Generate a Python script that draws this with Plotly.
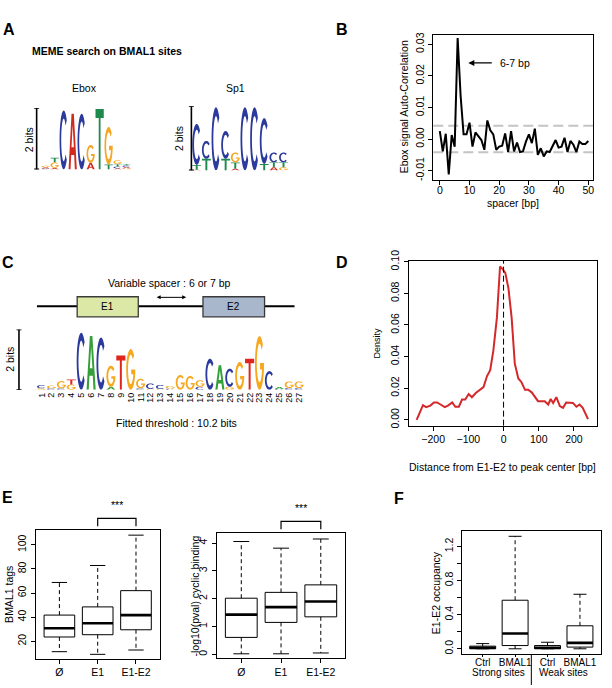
import math
import plotly.graph_objects as go

W, H = 612, 688
OFF = 0  # body margin removed in the page (post_script), so figure pixels = window pixels
FONT = "Liberation Sans, Arial, sans-serif"

# ---------------- data ----------------
# Panel A: Ebox logo (stacked bottom -> top per position)
EBOX_POS = [1, 1, 1, 2, 2, 2, 3, 4, 5, 6, 6, 7, 8, 8, 9, 9, 9, 9, 10, 10, 10, 10]
EBOX_LET = ["C", "A", "G", "A", "G", "T", "C", "A", "C", "A", "G", "T", "T", "G", "A", "C", "T", "G", "G", "A", "C", "T"]
EBOX_BITS = [0.03, 0.04, 0.05, 0.05, 0.18, 0.15, 1.92, 1.81, 1.81, 0.21, 0.59, 1.97, 0.16, 1.22,
             0.04, 0.05, 0.08, 0.13, 0.04, 0.04, 0.05, 0.04]

# Panel A: Sp1 logo
SP1_POS = [1, 1, 1, 2, 2, 3, 4, 4, 5, 5, 5, 6, 7, 8, 8, 9, 9, 9, 10, 10, 10]
SP1_LET = ["A", "T", "C", "T", "C", "C", "T", "C", "A", "T", "G", "C", "C", "T", "C", "A", "T", "C", "G", "T", "C"]
SP1_BITS = [0.02, 0.15, 1.28, 0.36, 0.56, 1.97, 0.36, 0.87, 0.05, 0.20, 0.31, 1.97, 1.97, 0.20, 1.43,
            0.10, 0.15, 0.31, 0.10, 0.15, 0.31]

# Panel C: E1-E2 logo
CL_POS = [1, 1, 2, 2, 3, 3, 4, 4, 5, 6, 7, 8, 8, 9, 10, 11, 11, 12, 12, 13, 13, 14, 14, 15, 16,
          17, 17, 18, 19, 20, 20, 21, 22, 23, 24, 25, 25, 26, 26, 27, 27]
CL_LET = ["G", "C", "C", "G", "C", "G", "G", "T", "C", "A", "C", "A", "G", "T", "G", "C", "G", "G", "C",
          "G", "C", "C", "G", "G", "G", "C", "G", "C", "A", "G", "C", "G", "T", "G", "C", "C", "A",
          "C", "G", "C", "G"]
CL_BITS = [0.05, 0.11, 0.05, 0.09, 0.05, 0.24, 0.18, 0.16, 1.89, 1.78, 1.73, 0.10, 0.70, 1.14, 1.35,
           0.05, 0.32, 0.03, 0.18, 0.03, 0.13, 0.04, 0.09, 0.49, 0.46, 0.10, 0.22, 1.03, 0.81,
           0.10, 0.60, 0.92, 1.03, 1.78, 0.62, 0.03, 0.06, 0.06, 0.22, 0.06, 0.22]
CL_TICKS = [str(i) for i in range(1, 28)]

# Panel B: Ebox auto-correlation
B_SPACER = [0, 1, 2, 3, 4, 5, 6, 7, 8, 9, 10, 11, 12, 13, 14, 15, 16, 17, 18, 19, 20, 21, 22, 23, 24,
            25, 26, 27, 28, 29, 30, 31, 32, 33, 34, 35, 36, 37, 38, 39, 40, 41, 42, 43, 44, 45, 46,
            47, 48, 49, 50]
B_ACF = [0.0025, -0.0039, 0.0017, -0.0112, 0.0013, -0.0024, 0.0320, 0.0137, 0.0015, 0.0015, 0.0052,
         -0.0024, 0.0021, 0.0009, -0.0003, -0.0034, 0.0059, 0.0028, 0.0015, -0.0034, -0.0024, -0.0021,
         0.0018, -0.0041, 0.0025, -0.0039, -0.0011, -0.0041, -0.0039, -0.0008, 0.0015, -0.0013,
         0.0033, -0.0050, -0.0029, -0.0055, -0.0039, -0.0041, -0.0024, -0.0003, -0.0027, -0.0024,
         0.0004, -0.0041, -0.0006, -0.0018, -0.0041, -0.0008, -0.0016, -0.0016, -0.0006]
B_THRESH = [0.0042, -0.0042]
B_XTICKS = [0, 10, 20, 30, 40, 50]
B_YTICKS = [-0.01, 0.0, 0.01, 0.02, 0.03]
B_YTEXT = ["-0.01", "0.00", "0.01", "0.02", "0.03"]

# Panel D: density of distance
D_X = [-247, -229, -220, -208, -198, -189, -179, -167, -158, -146, -137, -127, -118, -109, -99, -90,
       -79, -66, -57, -47, -38, -29, -19, -10, -3, 5, 14, 23, 32, 42, 51, 61, 70, 80, 89, 98, 108,
       117, 127, 134, 141, 150, 160, 169, 178, 188, 197, 207, 216, 225, 240]
D_Y = [0.0, 0.0093, 0.008, 0.009, 0.011, 0.011, 0.0097, 0.008, 0.009, 0.011, 0.0083, 0.0083, 0.0128,
       0.0128, 0.0163, 0.0143, 0.017, 0.0194, 0.0207, 0.0277, 0.0314, 0.0438, 0.0645, 0.097, 0.0955,
       0.093, 0.083, 0.0645, 0.0355, 0.0262, 0.0238, 0.019, 0.019, 0.0174, 0.0149, 0.0118, 0.0118,
       0.0118, 0.0097, 0.0132, 0.0107, 0.0143, 0.0087, 0.0076, 0.011, 0.0107, 0.0107, 0.0083,
       0.0097, 0.0076, 0.0004]
D_XTICKS = [-200, -100, 0, 100, 200]
D_XTEXT = ["\u2212200", "\u2212100", "0", "100", "200"]
D_YTICKS = [0.0, 0.02, 0.04, 0.06, 0.08, 0.10]
D_YTEXT = ["0.00", "0.02", "0.04", "0.06", "0.08", "0.10"]

# Panel E: boxplots
E_CATS = ["\u00d8", "E1", "E1-E2"]
E1_LOW = [11.3, 9.1, 12.7]
E1_Q1 = [23.5, 25.4, 29.5]
E1_MED = [30.8, 34.9, 41.7]
E1_Q3 = [41.7, 48.5, 62.0]
E1_HIGH = [68.8, 82.9, 108.1]
E1_YTICKS = [20, 40, 60, 80, 100]

E2_LOW = [0.02, 0.02, 0.05]
E2_Q1 = [0.61, 1.15, 1.35]
E2_MED = [1.43, 1.70, 1.90]
E2_Q3 = [2.02, 2.23, 2.50]
E2_HIGH = [4.06, 3.82, 4.15]
E2_YTICKS = [0, 1, 2, 3, 4]

# Panel F: boxplots
F_CATS = ["Ctrl", "BMAL1", "Ctrl", "BMAL1"]
F_GROUPS = ["Strong sites", "Weak sites"]
F_LOW = [0.0, 0.0, 0.0, 0.0]
F_Q1 = [0.0, 0.038, 0.0, 0.02]
F_MED = [0.012, 0.18, 0.012, 0.069]
F_Q3 = [0.031, 0.57, 0.038, 0.27]
F_HIGH = [0.061, 1.32, 0.077, 0.64]
F_YTICKS = [0.0, 0.2, 0.4, 0.6, 0.8, 1.0, 1.2]
F_YTEXT = ["0.0", "", "0.4", "", "0.8", "", "1.2"]


# ---------------- helpers ----------------
def fx(p):
    return (p - OFF) / W


def fy(p):
    return 1 - (p - OFF) / H


def ell(rx, ry, a0, a1, n=30):
    pts = []
    for k in range(n + 1):
        a = math.radians(a0 + (a1 - a0) * k / n)
        pts.append((0.5 + rx * math.cos(a), 0.5 + ry * math.sin(a)))
    return pts


GLYPHS = {
    "C": [ell(0.5, 0.5, 42, 318) + ell(0.30, 0.36, 318, 42)],
    "G": [ell(0.5, 0.5, 42, 360) + [(0.55, 0.5), (0.55, 0.38)] + ell(0.30, 0.36, 340.5, 42)],
    "A": [[(0, 0), (0.36, 1), (0.64, 1), (1, 0), (0.76, 0), (0.68, 0.26), (0.32, 0.26), (0.24, 0)],
          [(0.36, 0.40), (0.5, 0.80), (0.64, 0.40)]],
    "T": [[(0, 1), (1, 1), (1, 0.85), (0.61, 0.85), (0.61, 0), (0.39, 0), (0.39, 0.85), (0, 0.85)]],
}

MEME_COL = {"A": "#d42a1e", "C": "#2b3a9c", "G": "#f5a623", "T": "#1e8a4c"}
CL_COL = {"A": "#35a03a", "C": "#2b3a9c", "G": "#f6a81e", "T": "#e0261c"}


def logo_shapes(pos, let, bits, xr, yr, colors, w=0.92):
    shapes = []
    base = {}
    for p, l, b in zip(pos, let, bits):
        y0 = base.get(p, 0.0)
        parts = []
        for poly in GLYPHS[l]:
            pts = [(p - w / 2 + u * w, y0 + v * b) for u, v in poly]
            parts.append("M" + "L".join(f"{x:.4f},{y:.5f}" for x, y in pts) + "Z")
        shapes.append(dict(type="path", path="".join(parts), xref=xr, yref=yr,
                           fillcolor=colors[l], line=dict(width=0), layer="above"))
        base[p] = y0 + b
    return shapes


def box_traces(low, q1, med, q3, high, xa, ya, bw=0.8):
    bx, by, mx, my, wx, wy, sx, sy = [], [], [], [], [], [], [], []
    for i in range(len(med)):
        c = i + 1
        l, r = c - bw / 2, c + bw / 2
        bx += [l, r, r, l, l, None]
        by += [q1[i], q1[i], q3[i], q3[i], q1[i], None]
        mx += [l, r, None]
        my += [med[i], med[i], None]
        wx += [c, c, None, c, c, None]
        wy += [q3[i], high[i], None, q1[i], low[i], None]
        sx += [c - bw / 4, c + bw / 4, None, c - bw / 4, c + bw / 4, None]
        sy += [high[i], high[i], None, low[i], low[i], None]
    common = dict(xaxis=xa, yaxis=ya, mode="lines", hoverinfo="skip", showlegend=False)
    return [
        go.Scatter(x=wx, y=wy, line=dict(color="black", width=1, dash="4px,3px"), **common),
        go.Scatter(x=sx, y=sy, line=dict(color="black", width=1), **common),
        go.Scatter(x=bx, y=by, line=dict(color="black", width=1), **common),
        go.Scatter(x=mx, y=my, line=dict(color="black", width=2.6), **common),
    ]


def plot_axis(dom_px, rng, anchor, **kw):
    d = dict(domain=dom_px, range=rng, anchor=anchor, showline=True, mirror=True,
             linecolor="black", linewidth=1, ticks="outside", ticklen=4, tickwidth=1,
             tickcolor="black", showgrid=False, zeroline=False,
             tickfont=dict(size=10.5, color="black", family=FONT))
    d.update(kw)
    return d


def ann(text, x, y, size=10.5, bold=False, angle=0, xanchor="center", yanchor="middle"):
    if bold:
        text = "<b>" + text + "</b>"
    return dict(text=text, x=fx(x), y=fy(y), xref="paper", yref="paper", showarrow=False,
                font=dict(size=size, color="black", family=FONT), textangle=angle,
                xanchor=xanchor, yanchor=yanchor)


fig = go.Figure()
shapes = []
annotations = []

# ---------------- Panel A ----------------
shapes += logo_shapes(EBOX_POS, EBOX_LET, EBOX_BITS, "x", "y", MEME_COL)
shapes += logo_shapes(SP1_POS, SP1_LET, SP1_BITS, "x2", "y2", MEME_COL)
fig.add_trace(go.Scatter(x=[], y=[], xaxis="x", yaxis="y", showlegend=False))
fig.add_trace(go.Scatter(x=[], y=[], xaxis="x2", yaxis="y2", showlegend=False))


def bracket(xpx, yr):
    return [
        dict(type="line", xref="paper", yref=yr, x0=fx(xpx), x1=fx(xpx), y0=0, y1=2,
             line=dict(color="black", width=1.6)),
        dict(type="line", xref="paper", yref=yr, x0=fx(xpx - 2.5), x1=fx(xpx + 2.5), y0=0, y1=0,
             line=dict(color="black", width=1.6)),
        dict(type="line", xref="paper", yref=yr, x0=fx(xpx - 2.5), x1=fx(xpx + 2.5), y0=2, y1=2,
             line=dict(color="black", width=1.6)),
    ]


shapes += bracket(36.7, "y")
shapes += bracket(191.7, "y2")
shapes += bracket(19.0, "y4")

annotations += [
    ann("A", 9, 19, size=16, bold=True),
    ann("MEME search on BMAL1 sites", 30, 41, size=10.5, bold=True, xanchor="left"),
    ann("Ebox", 85, 79),
    ann("Sp1", 236, 79),
    ann("2 bits", 29, 131, angle=-90),
    ann("2 bits", 180, 130, angle=-90),
]

# ---------------- Panel B ----------------
fig.add_trace(go.Scatter(x=B_SPACER, y=B_ACF, xaxis="x3", yaxis="y3", mode="lines",
                         line=dict(color="black", width=2), showlegend=False))
for v in B_THRESH:
    shapes.append(dict(type="line", xref="x3 domain", yref="y3", x0=0, x1=1, y0=v, y1=v,
                       line=dict(color="#c4c4c4", width=2, dash="10px,5px"), layer="below"))
annotations += [
    ann("B", 343, 19, size=16, bold=True),
    ann("Ebox signal Auto-Correlation", 405, 98, angle=-90),
    ann("spacer [bp]", 514, 196),
    dict(x=9.6, y=0.0241, ax=18.0, ay=0.0241, xref="x3", yref="y3", axref="x3", ayref="y3",
         text="", showarrow=True, arrowhead=2, arrowsize=1, arrowwidth=1.2, arrowcolor="black"),
    dict(x=19.6, y=0.0241, xref="x3", yref="y3", text="6-7 bp", showarrow=False,
         xanchor="left", font=dict(size=10.5, color="black", family=FONT)),
]

# ---------------- Panel C ----------------
shapes += logo_shapes(CL_POS, CL_LET, CL_BITS, "x4", "y4", CL_COL)
fig.add_trace(go.Scatter(x=[], y=[], xaxis="x4", yaxis="y4", showlegend=False))
shapes += [
    dict(type="line", xref="paper", yref="paper", x0=fx(37), x1=fx(295), y0=fy(301.5), y1=fy(301.5),
         line=dict(color="black", width=2), layer="below"),
    dict(type="rect", xref="paper", yref="paper", x0=fx(77.3), x1=fx(138.5), y0=fy(312.3), y1=fy(291.7),
         fillcolor="#dce8a6", line=dict(color="#3a3a3a", width=1.3)),
    dict(type="rect", xref="paper", yref="paper", x0=fx(203.3), x1=fx(265), y0=fy(312.3), y1=fy(291.7),
         fillcolor="#a9b7cc", line=dict(color="#3a3a3a", width=1.3)),
]
annotations += [
    ann("C", 8, 257, size=16, bold=True),
    ann("Variable spacer : 6 or 7 bp", 170, 278),
    ann("E1", 108, 302, size=10),
    ann("E2", 234, 302, size=10),
    dict(x=fx(186.5), y=fy(292.3), ax=-31, ay=0, xref="paper", yref="paper",
         axref="pixel", ayref="pixel", text="", showarrow=True, arrowhead=2, arrowside="end+start",
         arrowsize=0.8, arrowwidth=1, arrowcolor="black"),
    ann("2 bits", 10, 355, angle=-90),
    ann("Fitted threshold : 10.2 bits", 177, 421),
]

# ---------------- Panel D ----------------
fig.add_trace(go.Scatter(x=D_X, y=D_Y, xaxis="x5", yaxis="y5", mode="lines",
                         line=dict(color="#d4282a", width=2), showlegend=False))
shapes.append(dict(type="line", xref="x5", yref="y5 domain", x0=0, x1=0, y0=0, y1=1,
                   line=dict(color="black", width=1, dash="6px,3px")))
annotations += [
    ann("D", 343, 257, size=16, bold=True),
    ann("Density", 378, 339, size=9, angle=-90),
    ann("Distance from E1-E2 to peak center [bp]", 503, 465),
]

# ---------------- Panel E ----------------
for t in box_traces(E1_LOW, E1_Q1, E1_MED, E1_Q3, E1_HIGH, "x6", "y6"):
    fig.add_trace(t)
for t in box_traces(E2_LOW, E2_Q1, E2_MED, E2_Q3, E2_HIGH, "x7", "y7"):
    fig.add_trace(t)


def sig(xr, ytop, ybot):
    return dict(type="path", xref=xr, yref="paper",
                path=f"M2,{fy(ybot):.5f}L2,{fy(ytop):.5f}L3,{fy(ytop):.5f}L3,{fy(ybot):.5f}",
                line=dict(color="black", width=1.2))


shapes += [sig("x6", 518, 526), sig("x7", 521, 529)]
annotations += [
    ann("E", 8, 497, size=16, bold=True),
    ann("BMAL1 tags", 9, 595, angle=-90),
    ann("-log10(pval) cyclic binding", 195, 597, angle=-90),
    dict(x=2.5, y=fy(512), xref="x6", yref="paper", text="***", showarrow=False,
         font=dict(size=10.5, color="black", family=FONT)),
    dict(x=2.5, y=fy(515), xref="x7", yref="paper", text="***", showarrow=False,
         font=dict(size=10.5, color="black", family=FONT)),
]

# ---------------- Panel F ----------------
for t in box_traces(F_LOW, F_Q1, F_MED, F_Q3, F_HIGH, "x8", "y8"):
    fig.add_trace(t)
shapes.append(dict(type="line", xref="x8", yref="paper", x0=2.5, x1=2.5, y0=fy(688), y1=fy(656.7),
                   line=dict(color="black", width=1)))
annotations += [
    ann("F", 400, 498, size=16, bold=True),
    ann("E1-E2 occupancy", 437, 594, angle=-90),
    dict(x=1.5, y=fy(682.5), xref="x8", yref="paper", text=F_GROUPS[0], showarrow=False,
         font=dict(size=10, color="black", family=FONT)),
    dict(x=3.5, y=fy(682.5), xref="x8", yref="paper", text=F_GROUPS[1], showarrow=False,
         font=dict(size=10, color="black", family=FONT)),
]

# ---------------- Layout ----------------
hidden = dict(visible=False, showgrid=False, zeroline=False)
fig.update_layout(
    width=W, height=H, margin=dict(l=0, r=0, t=0, b=0), autosize=False,
    paper_bgcolor="white", plot_bgcolor="white", showlegend=False,
    font=dict(family=FONT, color="black", size=10.5),
    xaxis=dict(domain=[fx(41.3), fx(131.3)], range=[0.5, 10.5], anchor="y", **hidden),
    yaxis=dict(domain=[fy(161.7), fy(99)], range=[0, 2], anchor="x", **hidden),
    xaxis2=dict(domain=[fx(192.2), fx(288.8)], range=[0.5, 10.5], anchor="y2", **hidden),
    yaxis2=dict(domain=[fy(162.7), fy(97.3)], range=[0, 2], anchor="x2", **hidden),
    xaxis3=plot_axis([fx(434), fx(594)], [-2.2, 51.6], "y3", tickvals=B_XTICKS, ticklabelstandoff=-3),
    yaxis3=plot_axis([fy(172), fy(24)], [-0.0128, 0.0331], "x3", tickvals=B_YTICKS,
                     ticktext=B_YTEXT, tickangle=-90),
    xaxis4=dict(domain=[fx(36.7), fx(304.6)], range=[0.5, 27.5], anchor="y4", showgrid=False,
                zeroline=False, showline=False, ticks="", tickangle=-90,
                tickvals=list(range(1, 28)), ticktext=CL_TICKS,
                tickfont=dict(size=9, color="black", family=FONT)),
    yaxis4=dict(domain=[fy(386.7), fy(325)], range=[0, 2], anchor="x4", **hidden),
    xaxis5=plot_axis([fx(409.3), fx(597.7)], [-269.8, 264.8], "y5", tickvals=D_XTICKS,
                     ticktext=D_XTEXT),
    yaxis5=plot_axis([fy(423.3), fy(255)], [-0.0037, 0.1006], "x5", tickvals=D_YTICKS,
                     ticktext=D_YTEXT, tickangle=-90),
    xaxis6=plot_axis([fx(35.7), fx(160)], [0.38, 3.62], "y6", tickvals=[1, 2, 3], ticktext=E_CATS),
    yaxis6=plot_axis([fy(661), fy(530)], [5.6, 112.2], "x6", tickvals=E1_YTICKS, tickangle=-90),
    xaxis7=plot_axis([fx(217), fx(346)], [0.38, 3.62], "y7", tickvals=[1, 2, 3], ticktext=E_CATS),
    yaxis7=plot_axis([fy(660.7), fy(533)], [-0.14, 4.36], "x7", tickvals=E2_YTICKS, tickangle=-90),
    xaxis8=plot_axis([fx(462.7), fx(601.7)], [0.36, 4.64], "y8", tickvals=[1, 2, 3, 4],
                     ticktext=F_CATS, ticklen=2, ticklabelstandoff=-3,
                     tickfont=dict(size=10, color="black", family=FONT)),
    yaxis8=plot_axis([fy(656.7), fy(531)], [-0.065, 1.38], "x8", tickvals=F_YTICKS,
                     ticktext=F_YTEXT, tickangle=-90),
    shapes=shapes,
    annotations=annotations,
)

fig.write_html("out.html", config={"displayModeBar": False},
               post_script="document.body.style.margin='0px';")
